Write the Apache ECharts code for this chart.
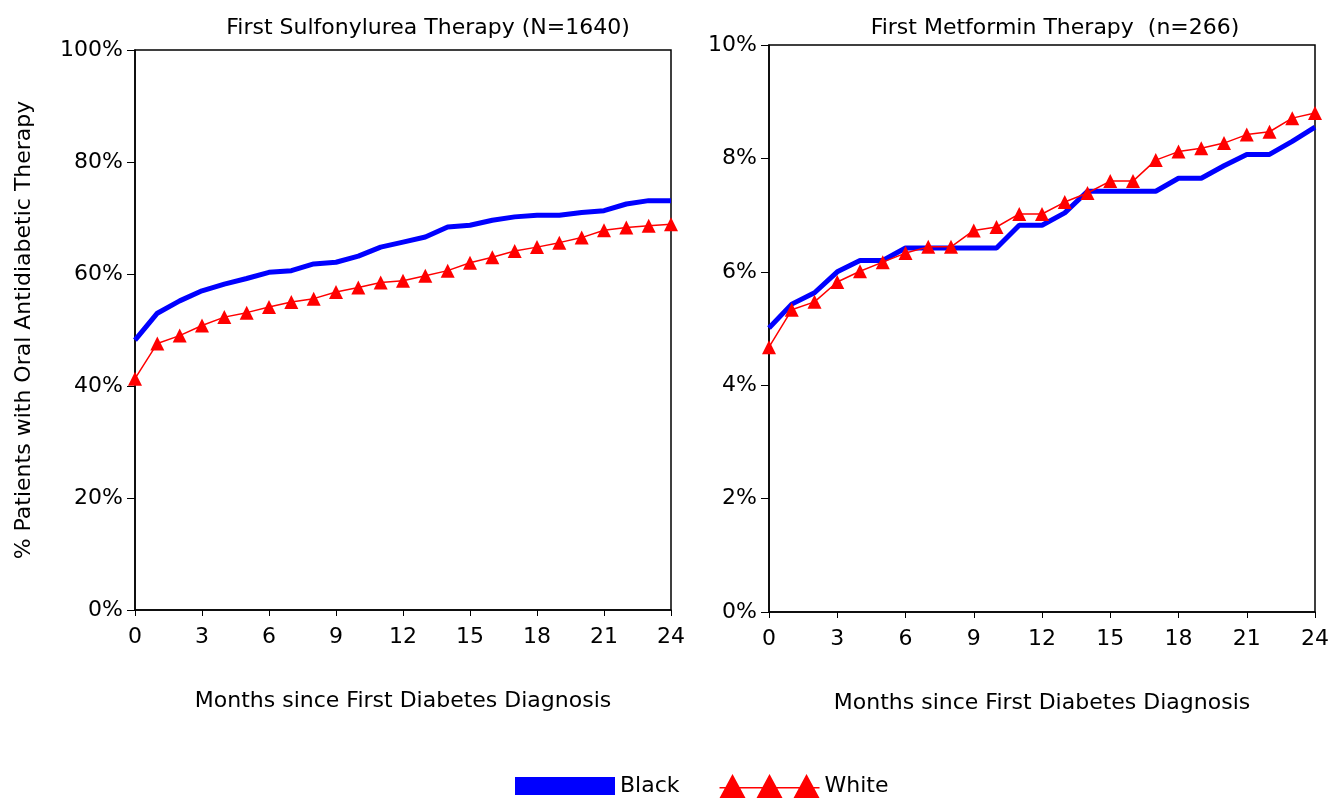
<!DOCTYPE html>
<html>
<head>
<meta charset="utf-8">
<script src="https://cdn.jsdelivr.net/npm/echarts@6/dist/echarts.min.js"></script>
<style>html,body{margin:0;background:#fff}#chart{width:1332px;height:803px}</style>
</head>
<body>
<div id="chart"></div>
<script>
var months = [];
for (var m = 0; m <= 24; m++) months.push(String(m));

// 首个磺脲类治疗 (%)
var sulfBlack = [48.2, 53, 55.2, 57, 58.2, 59.2, 60.3, 60.6, 61.8, 62.1, 63.2, 64.8, 65.7, 66.6, 68.4, 68.7, 69.6, 70.2, 70.5, 70.5, 71, 71.3, 72.5, 73.1, 73.1];
var sulfWhite = [41.3, 47.6, 49, 50.8, 52.3, 53.1, 54.1, 55, 55.6, 56.8, 57.6, 58.5, 58.8, 59.7, 60.6, 62, 63, 64.1, 64.8, 65.6, 66.5, 67.8, 68.3, 68.6, 68.9];
// 首个二甲双胍治疗 (%)
var metBlack = [5.01, 5.43, 5.63, 6.0, 6.2, 6.2, 6.42, 6.42, 6.42, 6.42, 6.42, 6.82, 6.82, 7.04, 7.42, 7.42, 7.42, 7.42, 7.65, 7.65, 7.87, 8.07, 8.07, 8.3, 8.55];
var metWhite = [4.67, 5.33, 5.47, 5.82, 6.01, 6.17, 6.33, 6.44, 6.44, 6.73, 6.79, 7.02, 7.02, 7.23, 7.39, 7.6, 7.6, 7.97, 8.12, 8.18, 8.27, 8.42, 8.47, 8.71, 8.8];

var font = 'DejaVu Sans, Liberation Sans, sans-serif';
var chart = echarts.init(document.getElementById('chart'));

function xAxis(idx) {
    return {
        type: 'category', gridIndex: idx, data: months, boundaryGap: false,
        name: 'Months since First Diabetes Diagnosis', nameLocation: 'middle', nameGap: 80,
        nameTextStyle: {fontFamily: font, fontSize: 22, color: '#000'},
        axisLine: {lineStyle: {color: '#000', width: 1.5}},
        axisTick: {interval: 2, length: 6, lineStyle: {color: '#000'}},
        axisLabel: {interval: 2, fontFamily: font, fontSize: 22, color: '#000', margin: 16},
        splitLine: {show: false}
    };
}
function yAxis(idx, max, interval, fmt) {
    return {
        type: 'value', gridIndex: idx, min: 0, max: max, interval: interval,
        axisLine: {show: true, lineStyle: {color: '#000', width: 1.5}},
        axisTick: {show: true, length: 8, lineStyle: {color: '#000'}},
        axisLabel: {fontFamily: font, fontSize: 22, color: '#000', margin: 12, formatter: fmt},
        splitLine: {show: false}
    };
}

var option = {
    animation: false,
    title: [
        {text: 'First Sulfonylurea Therapy (N=1640)', left: 423, top: 12, textAlign: 'center',
         textStyle: {fontFamily: font, fontSize: 22, fontWeight: 'normal', color: '#000'}},
        {text: 'First Metformin Therapy  (n=266)', left: 1050, top: 12, textAlign: 'center',
         textStyle: {fontFamily: font, fontSize: 22, fontWeight: 'normal', color: '#000'}}
    ],
    legend: {
        bottom: 0, left: 510, itemGap: 40, itemWidth: 100, itemHeight: 26,
        textStyle: {fontFamily: font, fontSize: 22, color: '#000', padding: [12, 0, 0, 0]},
        data: [
            {name: 'Black', icon: 'path://M0,4H100V22H0Z'},
            {name: 'White', icon: 'path://M0,24L13,0L26,24Z M37,24L50,0L63,24Z M74,24L87,0L100,24Z M0,13H100V14.5H0Z'}
        ]
    },
    grid: [
        {left: 135, right: 661, top: 50, height: 560, show: true, borderColor: '#000', borderWidth: 1.5, backgroundColor: 'transparent'},
        {left: 769, right: 16, top: 45, height: 567, show: true, borderColor: '#000', borderWidth: 1.5, backgroundColor: 'transparent'}
    ],
    xAxis: [xAxis(0), xAxis(1)],
    yAxis: [
        Object.assign(yAxis(0, 100, 20, '{value}%'), {
            name: '% Patients with Oral Antidiabetic Therapy', nameLocation: 'middle', nameGap: 100,
            nameTextStyle: {fontFamily: font, fontSize: 22, color: '#000'}
        }),
        yAxis(1, 10, 2, '{value}%')
    ],
    series: [
        {name: 'Black', type: 'line', xAxisIndex: 0, yAxisIndex: 0, data: sulfBlack, showSymbol: false, symbol: 'none',
         color: '#0000ff', lineStyle: {color: '#0000ff', width: 5}},
        {name: 'White', type: 'line', xAxisIndex: 0, yAxisIndex: 0, data: sulfWhite, symbol: 'triangle', symbolSize: 14,
         color: '#ff0000', lineStyle: {color: '#ff0000', width: 1.5}, itemStyle: {color: '#ff0000'}},
        {name: 'Black', type: 'line', xAxisIndex: 1, yAxisIndex: 1, data: metBlack, showSymbol: false, symbol: 'none',
         color: '#0000ff', lineStyle: {color: '#0000ff', width: 5}},
        {name: 'White', type: 'line', xAxisIndex: 1, yAxisIndex: 1, data: metWhite, symbol: 'triangle', symbolSize: 14,
         color: '#ff0000', lineStyle: {color: '#ff0000', width: 1.5}, itemStyle: {color: '#ff0000'}}
    ]
};
chart.setOption(option);
</script>
</body>
</html>
